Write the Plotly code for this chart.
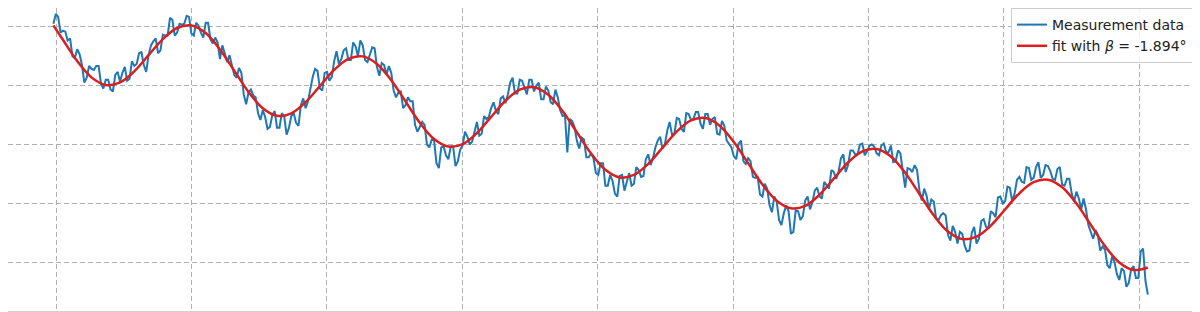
import plotly.graph_objects as go

# ---- data (arbitrary units) ----
meas_x0 = -0.0191       # first sample position
meas_dx = 0.0175715     # sample spacing
# samples 0, 2, 4, ...
meas_y_even = [
    243, 250, 236, 226, 210, 217, 201, 188, 197, 200, 182, 186, 176, 191, 184, 199, 187, 200,
    213, 201, 211, 225, 213, 232, 231, 247, 234, 242, 251,
    233, 244, 234, 244, 227, 229, 207, 213, 211, 191, 198, 171, 173, 170, 152, 155, 136, 150,
    137, 152, 130, 149, 142, 160, 157, 178, 197, 177, 193, 185, 205, 202, 216, 206, 224, 210,
    221, 204, 219, 199, 203, 191, 193, 168, 174, 160, 164, 140, 139, 140, 117, 124, 96, 118,
    105, 118, 103, 119, 128, 123, 143, 131, 146, 157, 154, 167, 162, 183, 172, 186, 179, 186,
    174, 183, 166, 175, 161, 168, 149, 112, 144, 124, 127, 107, 111, 91, 101, 78, 89, 70,
    88, 73, 91, 80, 94, 88, 110, 106, 124, 116, 134, 130, 147, 136, 152, 145, 153, 141,
    151, 140, 148, 130, 139, 120, 108, 121, 103, 106, 87, 87, 67, 75, 51, 62, 38, 58,
    29, 53, 43, 63, 54, 73, 67, 82, 75, 92, 92, 110, 99, 114, 110, 121, 113, 120,
    111, 119, 112, 119, 103, 111, 76, 95, 99, 73, 75, 54, 62, 43, 50, 28, 37, 19,
    29, 11, 30, 19, 42, 36, 52, 46, 67, 62, 76, 70, 87, 81, 96, 86, 102, 89,
    98, 85, 95, 79, 85, 70, 72, 54, 54, 32, 33, 12, 13, -6, 0, -18, -9, -21, -4, -16, 14, -33,
]
# samples 1, 3, 5, ...
meas_y_odd = [
    253, 234, 235, 228, 208, 212, 183, 200, 196, 200, 177, 186, 174, 194, 193, 185, 205, 202,
    214, 194, 221, 228, 216, 231, 249, 231, 243, 243, 250,
    231, 241, 229, 244, 223, 224, 221, 204, 202, 188, 193, 161, 176, 168, 145, 148, 138, 154,
    137, 149, 137, 152, 139, 167, 164, 189, 195, 175, 194, 189, 215, 207, 218, 206, 220,
    226, 206, 211, 218, 190, 201, 200, 175, 173, 157, 168, 164, 133, 143, 120, 125, 101, 117,
    109, 118, 98, 115, 133, 120, 134, 129, 149, 148, 163, 151, 169, 171, 188, 172, 185, 171,
    186, 180, 166, 179, 163, 176, 155, 150, 146, 138, 116, 125, 107, 106, 89, 101, 78, 83,
    67, 89, 83, 78, 97, 87, 105, 99, 117, 128, 120, 143, 131, 146, 133, 151, 146, 153,
    136, 151, 146, 131, 144, 124, 117, 105, 124, 100, 103, 86, 69, 80, 58, 67, 43, 50,
    52, 31, 52, 47, 67, 61, 76, 65, 79, 94, 85, 106, 92, 114, 110, 120, 109, 119,
    118, 109, 121, 112, 102, 114, 93, 96, 92, 94, 63, 68, 64, 45, 48, 48, 22, 31,
    31, 17, 12, 36, 24, 44, 35, 50, 66, 60, 77, 62, 84, 82, 97, 84, 97, 86,
    99, 93, 84, 97, 78, 85, 62, 65, 65, 38, 24, 28, 16, -3, 6, -12, -6, -25, -7, -16, 11, -19,
]

fit_x0 = 0.0511
fit_dx = 0.10543
fit_start = (-0.0191, 241.4)
fit_end = (8.0637, -5.3)
fit_y = [
    226.7, 205.0, 188.4, 180.7, 183.2, 194.5, 211.0, 227.4, 238.7,
    241.2, 233.5, 216.9, 195.3, 173.6, 157.0, 149.3, 151.8, 163.1, 179.5, 196.0, 207.3,
    209.8, 202.1, 185.5, 163.9, 142.2, 125.6, 117.9, 120.4, 131.7, 148.1, 164.6, 175.9,
    178.4, 170.7, 154.1, 132.5, 110.8, 94.2, 86.5, 89.0, 100.3, 116.7, 133.2, 144.5,
    146.9, 139.2, 122.6, 101.0, 79.3, 62.7, 55.0, 57.5, 68.8, 85.2, 101.7, 113.0,
    115.5, 107.8, 91.2, 69.6, 47.9, 31.3, 23.6, 26.1, 37.4, 53.8, 70.3, 81.6,
    84.1, 76.4, 59.8, 38.2, 16.5, -0.1, -7.8,
]

beta_deg = -1.894
meas_name = "Measurement data"
fit_name = f"fit with <i>β</i> = {beta_deg:.3f}°"

# ---- build traces ----
meas_y = []
for i, v in enumerate(meas_y_even):
    meas_y.append(v)
    if i < len(meas_y_odd):
        meas_y.append(meas_y_odd[i])
meas_x = [meas_x0 + meas_dx * i for i in range(len(meas_y))]
fx = [fit_start[0]] + [fit_x0 + fit_dx * i for i in range(len(fit_y))] + [fit_end[0]]
fy = [fit_start[1]] + fit_y + [fit_end[1]]

fig = go.Figure()
fig.add_trace(go.Scatter(x=meas_x, y=meas_y, mode="lines", name=meas_name, legendgroup="a",
                         line=dict(color="#1f77b4", width=2)))
fig.add_trace(go.Scatter(x=fx, y=fy, mode="lines", name=fit_name, legendgroup="b",
                         line=dict(color="#dc1e1e", width=2.5, shape="spline", smoothing=1.0)))

grid = dict(showgrid=True, gridcolor="#b0b0b0", gridwidth=1, griddash="5px,3px",
            showticklabels=False, ticks="", zeroline=False)

fig.update_layout(
    width=1192, height=304,
    margin=dict(l=0, r=0, t=0, b=1),
    paper_bgcolor="white", plot_bgcolor="white",
    font=dict(family="DejaVu Sans", size=14, color="#222222"),
    xaxis=dict(range=[-0.35451, 8.44904], tick0=0, dtick=1,
               showline=True, mirror=False, linecolor="#d0d0d0", linewidth=1, **grid),
    yaxis=dict(range=[-49.6, 259.06], tick0=0, dtick=60, showline=False, **grid),
    legend=dict(x=0.9941, y=1.0, xanchor="right", yanchor="top",
                bgcolor="rgba(255,255,255,0.85)", bordercolor="#cccccc", borderwidth=1,
                font=dict(family="DejaVu Sans", size=14, color="#222222"),
                traceorder="grouped", tracegroupgap=0),
    showlegend=True,
)

fig.write_html("out.html")
